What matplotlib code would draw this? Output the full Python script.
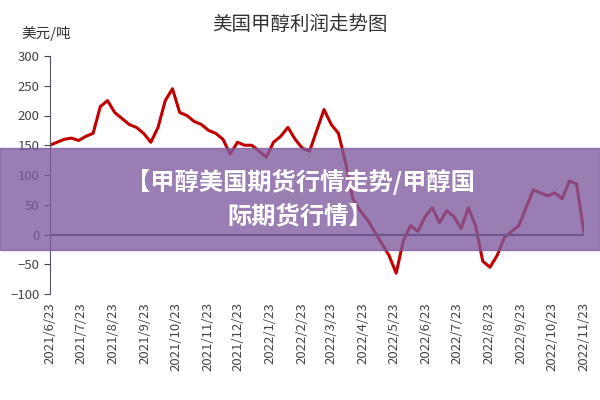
import numpy as np
import pandas as pd
import matplotlib
matplotlib.use("Agg")
import matplotlib.pyplot as plt
import matplotlib.dates as mdates

plt.rcParams['font.family'] = ['Noto Sans CJK SC', 'DejaVu Sans']

# weekly profit, USD/ton
start = "2021-06-23"
profit = [150, 155, 160, 162, 158, 165, 170, 215, 225, 205, 195, 185, 180, 170, 155,
          180, 225, 245, 205, 200, 190, 185, 175, 170, 160, 135, 155, 150, 150, 140,
          130, 155, 165, 180, 160, 145, 140, 175, 210, 185, 170, 120, 60, 40, 25,
          5, -15, -35, -65, -10, 15, 5, 30, 45, 20, 40, 30, 10, 45, 15,
          -45, -55, -35, -5, 5, 15, 45, 75, 70, 65, 70, 60, 90, 85, 5]
dates = pd.date_range(start, periods=len(profit), freq="7D")
tick_dates = pd.date_range("2021-06-01", "2022-11-01", freq="MS") + pd.Timedelta(days=22)
tick_labels = [f"{d.year}/{d.month}/{d.day}" for d in tick_dates]

fig = plt.figure(figsize=(6, 4), dpi=100)
ax = fig.add_axes([0.083, 0.265, 0.89, 0.595])
ax.plot(dates, profit, color="#c00000", lw=2.2)
ax.axhline(0, color="#404060", lw=1.5)
ax.set_ylim(-100, 300)
ax.set_yticks(range(-100, 301, 50))
ax.set_xlim(tick_dates[0], tick_dates[-1])
ax.set_xticks(tick_dates)
ax.set_xticklabels(tick_labels, rotation=90, fontsize=9.5, color="#444444")
ax.tick_params(axis="x", length=0, pad=6)
ax.tick_params(axis="y", labelsize=9.5, colors="#444444", length=4)
for s in ["top", "right", "bottom"]:
    ax.spines[s].set_visible(False)
ax.spines["left"].set_color("#555566")

fig.text(0.5, 0.925, "美国甲醇利润走势图", ha="center", fontsize=14, color="#333333")
fig.text(0.035, 0.905, "美元/吨", fontsize=10.5, color="#333333")

# overlay banner
fig.patches.append(plt.Rectangle((0, 0.375), 1, 0.255, transform=fig.transFigure,
                                 color="#7e5a9e", alpha=0.78, zorder=5))
fig.text(0.5, 0.545, "【甲醇美国期货行情走势/甲醇国", ha="center", va="center",
         fontsize=17.5, weight="bold", color="white", zorder=6)
fig.text(0.5, 0.46, "际期货行情】", ha="center", va="center",
         fontsize=17.5, weight="bold", color="white", zorder=6)

fig.savefig("out.png")
